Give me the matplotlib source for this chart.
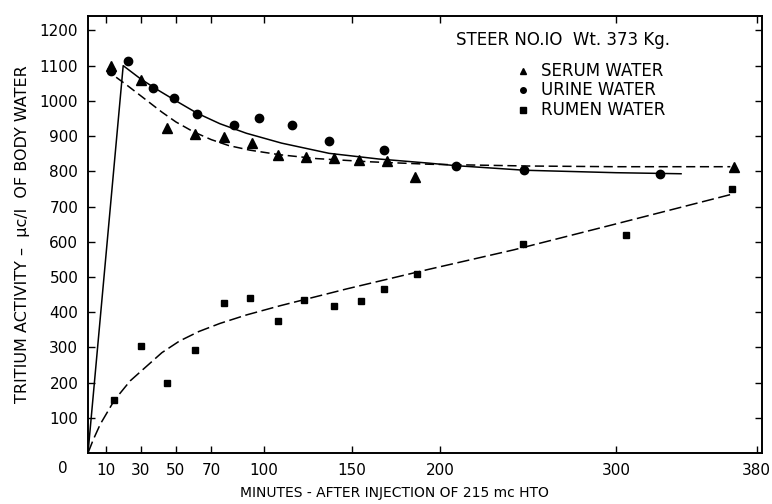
import numpy as np
import matplotlib
matplotlib.use("Agg")
import matplotlib.pyplot as plt

# measured points (minutes, uc/l)
serum_t = [13, 30, 45, 61, 77, 93, 108, 124, 140, 154, 170, 186, 367]
serum_v = [1100, 1058, 922, 905, 898, 880, 847, 840, 838, 833, 828, 785, 813]

urine_t = [13, 23, 37, 49, 62, 83, 97, 116, 137, 168, 209, 248, 325]
urine_v = [1085, 1114, 1037, 1009, 962, 931, 950, 932, 887, 860, 816, 803, 793]

rumen_t = [15, 30, 45, 61, 77, 92, 108, 123, 140, 155, 168, 187, 247, 306, 366]
rumen_v = [150, 305, 200, 293, 426, 439, 374, 434, 418, 433, 467, 508, 593, 619, 749]

# fitted curves
urine_fit_t = [0, 20, 30, 40, 50, 62, 75, 90, 110, 137, 165, 194, 209, 248, 300, 337]
urine_fit_v = [0, 1100, 1062, 1030, 1000, 965, 935, 908, 880, 851, 835, 823, 816, 803, 796, 793]

serum_fit_t = [16, 22, 28, 35, 42, 50, 60, 70, 80, 92, 109, 130, 160, 194, 250, 300, 365]
serum_fit_v = [1067, 1045, 1022, 995, 968, 940, 912, 890, 873, 860, 847, 836, 827, 820, 815, 813, 813]

rumen_fit_t = [0, 3, 7, 15, 24, 33, 42, 52, 63, 75, 90, 109, 147, 194, 242, 298, 366]
rumen_fit_v = [0, 38, 82, 150, 205, 245, 285, 318, 345, 368, 392, 418, 466, 522, 577, 648, 735]

xticks = [10, 30, 50, 70, 100, 150, 200, 300, 380]
yticks = [100, 200, 300, 400, 500, 600, 700, 800, 900, 1000, 1100, 1200]

fig = plt.figure(figsize=(7.72, 5.04), dpi=100)
ax = fig.add_axes([88 / 772, 1 - 453 / 504, 674 / 772, 437 / 504])

ax.plot(urine_fit_t, urine_fit_v, color="black", lw=1.1)
ax.plot(serum_fit_t, serum_fit_v, color="black", lw=1.1, dashes=(6, 3))
ax.plot(rumen_fit_t, rumen_fit_v, color="black", lw=1.1, dashes=(8, 3))

ax.plot(serum_t, serum_v, "^", color="black", ms=6.5, ls="none")
ax.plot(urine_t, urine_v, "o", color="black", ms=6, ls="none")
ax.plot(rumen_t, rumen_v, "s", color="black", ms=5, ls="none")

ax.set_xlim(0, 383)
ax.set_ylim(0, 1241)
ax.set_xticks(xticks)
ax.set_yticks(yticks)
ax.tick_params(direction="in", length=5, width=1, labelsize=11,
               top=True, right=True, pad=7)
for s in ax.spines.values():
    s.set_linewidth(1.4)

ax.text(-0.038, -0.018, "0", transform=ax.transAxes, ha="center", va="top",
        fontsize=11)

ax.set_xlabel("MINUTES - AFTER INJECTION OF 215 mc HTO", fontsize=10)
ax.xaxis.set_label_coords(0.455, -0.075)
ax.set_ylabel("TRITIUM ACTIVITY \u2013  \u03bcc/l  OF BODY WATER", fontsize=11.5,
              labelpad=7)

# legend block
ax.text(0.546, 0.965, "STEER NO.IO  Wt. 373 Kg.", transform=ax.transAxes,
        fontsize=12, va="top")
labels = ["SERUM WATER", "URINE WATER", "RUMEN WATER"]
marks = ["^", "o", "s"]
for i, (lab, m) in enumerate(zip(labels, marks)):
    yy = 0.875 - i * 0.045
    ax.plot([0.646], [yy], m, color="black", ms=4, transform=ax.transAxes)
    ax.text(0.672, yy, lab, transform=ax.transAxes, fontsize=12, va="center")

fig.savefig("out.png", dpi=100)
